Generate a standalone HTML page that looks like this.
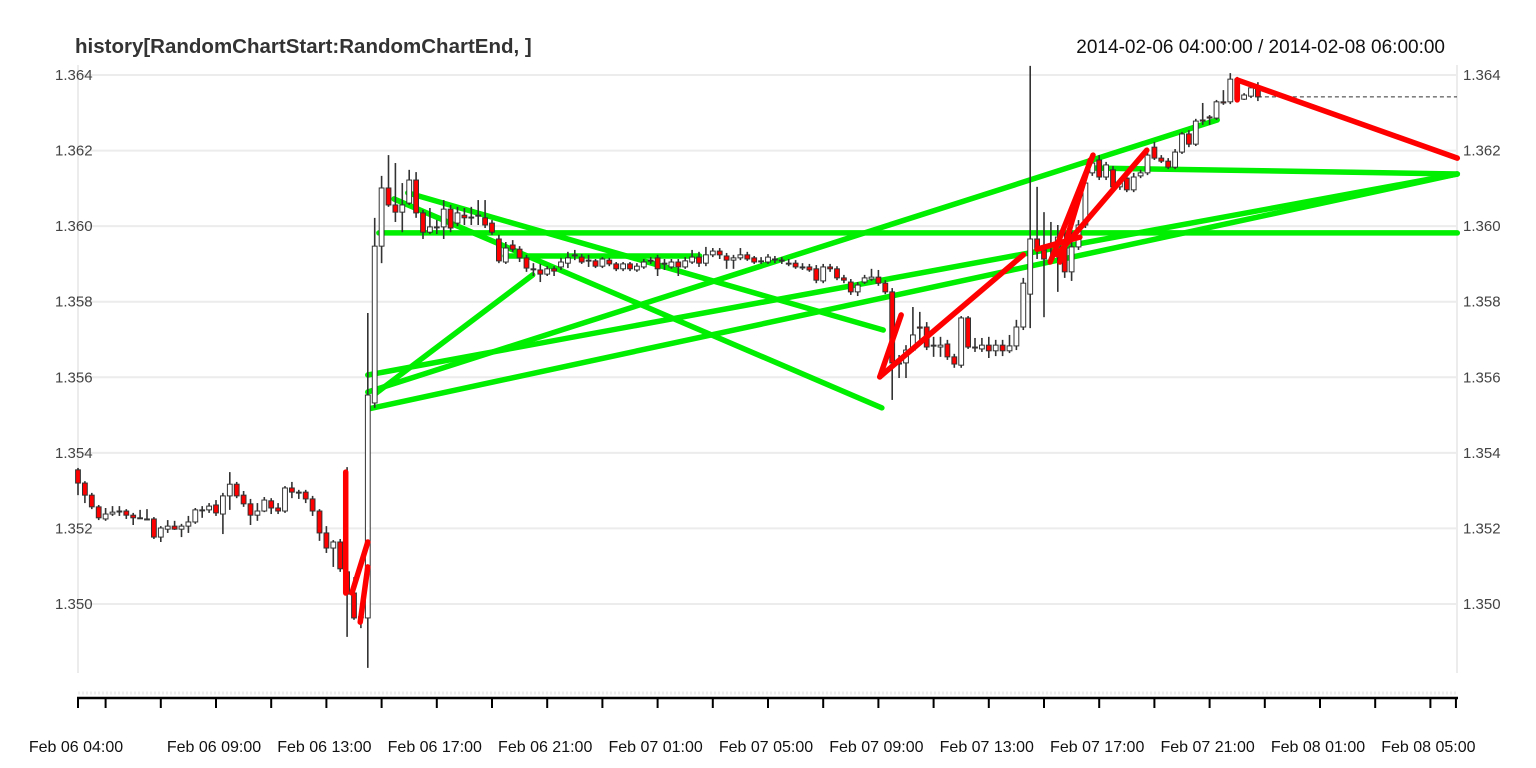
<!DOCTYPE html>
<html><head><meta charset="utf-8">
<style>
html,body{margin:0;padding:0;background:#fff;}
svg{display:block;font-family:"Liberation Sans",Arial,sans-serif;}
</style></head>
<body>
<svg id="chart" width="1536" height="768" viewBox="0 0 1536 768" xmlns="http://www.w3.org/2000/svg">
<rect x="0" y="0" width="1536" height="768" fill="#fff"/>
<text x="75" y="53" font-size="20.5" font-weight="bold" fill="#333">history[RandomChartStart:RandomChartEnd, ]</text>
<text x="1445" y="53" font-size="19" fill="#111" text-anchor="end">2014-02-06 04:00:00 / 2014-02-08 06:00:00</text>
<g id="grid"></g>
<g id="overlayG"></g>
<g id="candles"></g>
<g id="overlayR"></g>
<g id="axes"></g>
</svg>
<script>
const opens=[1.35355,1.35320,1.35288,1.35257,1.35225,1.35238,1.35246,1.35246,1.35235,1.35228,1.35225,1.35225,1.35177,1.35198,1.35206,1.35198,1.35206,1.35217,1.35249,1.35249,1.35262,1.35238,1.35286,1.35317,1.35288,1.35265,1.35235,1.35246,1.35273,1.35254,1.35246,1.35307,1.35296,1.35296,1.35278,1.35246,1.35188,1.35148,1.35164,1.35085,1.35029,1.34966,1.34963,1.35532,1.35947,1.36101,1.36056,1.36037,1.36061,1.36122,1.36035,1.35984,1.35998,1.35998,1.36045,1.36008,1.36029,1.36024,1.36029,1.36022,1.36008,1.35966,1.35905,1.35950,1.35939,1.35916,1.35887,1.35884,1.35873,1.35887,1.35892,1.35902,1.35924,1.35918,1.35910,1.35908,1.35894,1.35910,1.35900,1.35887,1.35900,1.35884,1.35892,1.35910,1.35916,1.35902,1.35892,1.35905,1.35892,1.35905,1.35918,1.35902,1.35924,1.35934,1.35921,1.35910,1.35916,1.35924,1.35916,1.35908,1.35905,1.35913,1.35910,1.35902,1.35902,1.35892,1.35892,1.35887,1.35855,1.35892,1.35887,1.35863,1.35852,1.35826,1.35852,1.35860,1.35865,1.35849,1.35826,1.35638,1.35638,1.35672,1.35733,1.35733,1.35685,1.35680,1.35688,1.35654,1.35632,1.35757,1.35680,1.35675,1.35685,1.35670,1.35685,1.35670,1.35683,1.35733,1.35820,1.35966,1.35937,1.35950,1.35945,1.35945,1.35879,1.35945,1.36003,1.36141,1.36175,1.36130,1.36149,1.36104,1.36127,1.36096,1.36133,1.36141,1.36209,1.36180,1.36172,1.36156,1.36196,1.36244,1.36217,1.36281,1.36289,1.36286,1.36329,1.36329,1.36389,1.36336,1.36344,1.36366];
const highs=[1.35360,1.35325,1.35294,1.35262,1.35254,1.35259,1.35259,1.35251,1.35241,1.35249,1.35251,1.35230,1.35206,1.35222,1.35220,1.35212,1.35233,1.35254,1.35259,1.35267,1.35275,1.35294,1.35349,1.35323,1.35299,1.35278,1.35267,1.35283,1.35280,1.35267,1.35312,1.35323,1.35302,1.35302,1.35286,1.35251,1.35206,1.35169,1.35172,1.35362,1.35071,1.34979,1.35770,1.36022,1.36133,1.36188,1.36167,1.36114,1.36149,1.36143,1.36043,1.36048,1.36016,1.36069,1.36056,1.36051,1.36048,1.36051,1.36069,1.36069,1.36016,1.35977,1.35958,1.35963,1.35947,1.35924,1.35902,1.35900,1.35894,1.35894,1.35916,1.35932,1.35937,1.35926,1.35924,1.35913,1.35918,1.35916,1.35905,1.35905,1.35905,1.35902,1.35913,1.35918,1.35924,1.35913,1.35913,1.35913,1.35918,1.35937,1.35932,1.35945,1.35942,1.35942,1.35929,1.35924,1.35942,1.35932,1.35921,1.35918,1.35926,1.35921,1.35918,1.35913,1.35910,1.35902,1.35900,1.35897,1.35900,1.35900,1.35894,1.35871,1.35860,1.35852,1.35871,1.35887,1.35884,1.35857,1.35836,1.35659,1.35685,1.35786,1.35773,1.35746,1.35707,1.35707,1.35699,1.35662,1.35762,1.35762,1.35704,1.35704,1.35707,1.35699,1.35699,1.35712,1.35752,1.35863,1.36424,1.36104,1.36037,1.36011,1.36003,1.35990,1.35990,1.36016,1.36127,1.36180,1.36188,1.36170,1.36159,1.36127,1.36135,1.36141,1.36149,1.36196,1.36223,1.36188,1.36180,1.36204,1.36249,1.36254,1.36284,1.36326,1.36294,1.36334,1.36360,1.36405,1.36395,1.36352,1.36374,1.36381];
const lows=[1.35288,1.35267,1.35251,1.35222,1.35220,1.35233,1.35233,1.35225,1.35209,1.35225,1.35222,1.35172,1.35164,1.35188,1.35196,1.35177,1.35188,1.35212,1.35228,1.35241,1.35233,1.35185,1.35249,1.35280,1.35257,1.35209,1.35220,1.35243,1.35238,1.35238,1.35241,1.35280,1.35278,1.35267,1.35233,1.35167,1.35135,1.35098,1.35085,1.34913,1.34958,1.34936,1.34831,1.35519,1.35902,1.36051,1.36011,1.35984,1.36056,1.36022,1.35966,1.35979,1.35979,1.35966,1.35984,1.36000,1.36003,1.36003,1.36003,1.35995,1.35977,1.35902,1.35900,1.35932,1.35905,1.35879,1.35868,1.35852,1.35868,1.35868,1.35884,1.35889,1.35910,1.35900,1.35892,1.35889,1.35889,1.35894,1.35881,1.35881,1.35881,1.35879,1.35887,1.35900,1.35868,1.35884,1.35887,1.35868,1.35887,1.35900,1.35892,1.35894,1.35918,1.35913,1.35887,1.35887,1.35910,1.35908,1.35900,1.35900,1.35900,1.35902,1.35900,1.35894,1.35887,1.35884,1.35879,1.35849,1.35849,1.35879,1.35857,1.35849,1.35818,1.35815,1.35847,1.35855,1.35842,1.35820,1.35540,1.35598,1.35598,1.35667,1.35691,1.35672,1.35654,1.35654,1.35646,1.35625,1.35625,1.35675,1.35667,1.35667,1.35651,1.35656,1.35656,1.35664,1.35672,1.35725,1.35730,1.35913,1.35759,1.35905,1.35826,1.35863,1.35855,1.35937,1.35995,1.36133,1.36122,1.36122,1.36096,1.36096,1.36090,1.36090,1.36127,1.36135,1.36175,1.36167,1.36151,1.36151,1.36191,1.36209,1.36212,1.36268,1.36268,1.36281,1.36321,1.36323,1.36331,1.36334,1.36339,1.36331];
const closes=[1.35320,1.35288,1.35257,1.35228,1.35238,1.35243,1.35244,1.35235,1.35228,1.35227,1.35224,1.35177,1.35201,1.35206,1.35198,1.35206,1.35217,1.35249,1.35247,1.35259,1.35241,1.35286,1.35317,1.35286,1.35265,1.35235,1.35246,1.35275,1.35254,1.35246,1.35307,1.35296,1.35294,1.35278,1.35246,1.35188,1.35148,1.35164,1.35093,1.35026,1.34963,1.34964,1.35553,1.35947,1.36101,1.36056,1.36037,1.36056,1.36122,1.36035,1.35984,1.35998,1.35996,1.36045,1.35995,1.36035,1.36022,1.36022,1.36027,1.36003,1.35984,1.35908,1.35942,1.35939,1.35916,1.35889,1.35885,1.35873,1.35887,1.35881,1.35905,1.35916,1.35922,1.35905,1.35908,1.35894,1.35913,1.35900,1.35887,1.35900,1.35887,1.35894,1.35905,1.35908,1.35887,1.35900,1.35905,1.35892,1.35908,1.35918,1.35902,1.35924,1.35934,1.35924,1.35910,1.35916,1.35924,1.35913,1.35905,1.35906,1.35918,1.35911,1.35908,1.35900,1.35892,1.35890,1.35884,1.35857,1.35892,1.35887,1.35863,1.35857,1.35826,1.35844,1.35863,1.35865,1.35849,1.35826,1.35638,1.35635,1.35672,1.35712,1.35730,1.35680,1.35683,1.35685,1.35654,1.35635,1.35757,1.35680,1.35678,1.35685,1.35670,1.35685,1.35670,1.35683,1.35733,1.35849,1.35966,1.35937,1.35913,1.35947,1.35971,1.35879,1.35945,1.36003,1.36114,1.36167,1.36130,1.36162,1.36104,1.36117,1.36096,1.36130,1.36141,1.36188,1.36180,1.36172,1.36156,1.36196,1.36244,1.36217,1.36278,1.36278,1.36286,1.36329,1.36326,1.36389,1.36336,1.36347,1.36366,1.36342];
// overlay segments: [startIndex, startPrice, endIndex, endPrice]
const greenSegs=[[43.6,1.35982,199.9,1.35982],[47.8,1.36088,116.7,1.35725],[45.8,1.36072,116.5,1.35519],[43.2,1.35558,65.9,1.35871],[61.9,1.35921,90.1,1.35921],[42.0,1.35561,165.1,1.36281],[42.0,1.35606,199.9,1.36138],[42.0,1.35516,199.9,1.36138],[146.7,1.36154,199.9,1.36138]];
const redSegs=[[38.8,1.35349,38.8,1.35029],[39.7,1.35029,42.0,1.35164],[40.9,1.34952,42.0,1.35098],[116.2,1.35601,119.3,1.35765],[116.2,1.35601,137.0,1.35924],[139.0,1.35939,145.2,1.35971],[140.9,1.35905,147.1,1.36188],[142.3,1.35905,146.7,1.36175],[141.9,1.35924,154.9,1.36201],[168.0,1.36334,168.0,1.36387],[168.0,1.36387,199.9,1.36180]];
const yTicks=[1.350,1.352,1.354,1.356,1.358,1.360,1.362,1.364];
const xTickIdx=[0,4,12,20,28,36,44,52,60,68,76,84,92,100,108,116,124,132,140,148,156,164,172,180,188,196,199.7];
const xLabelIdx=[0,20,36,52,68,84,100,116,132,148,164,180,196];
const xLabels=["Feb 06 04:00","Feb 06 09:00","Feb 06 13:00","Feb 06 17:00","Feb 06 21:00","Feb 07 01:00","Feb 07 05:00","Feb 07 09:00","Feb 07 13:00","Feb 07 17:00","Feb 07 21:00","Feb 08 01:00","Feb 08 05:00"];

const NS="http://www.w3.org/2000/svg";
const X0=78,STEP=6.9,XR=1457;
function xs(i){return X0+i*STEP;}
function ys(p){return 75+(1.364-p)/0.000026467;}
function mk(tag,attrs,parent){const e=document.createElementNS(NS,tag);for(const k in attrs)e.setAttribute(k,attrs[k]);parent.appendChild(e);return e;}
const grid=document.getElementById('grid'),axes=document.getElementById('axes');
let fl=mk('line',{x1:X0,y1:65,x2:X0,y2:673,stroke:'#ececec','stroke-width':2},grid);


let fr=mk('line',{x1:XR,y1:65,x2:XR,y2:673,stroke:'#ececec','stroke-width':2},grid);


let fb=mk('line',{x1:X0,y1:693,x2:XR,y2:693,stroke:'#ededed','stroke-width':3,'stroke-dasharray':'2,2'},grid);


yTicks.forEach(function(t){
  const y=ys(t);
  const g=mk('line',{x1:X0,y1:y,x2:XR,y2:y,stroke:'#ececec','stroke-width':2},grid);
  
  
  const l=mk('text',{x:55,y:y+5,'font-size':15,fill:'#444'},axes);
  l.textContent=t.toFixed(3);
  
  
  const r=mk('text',{x:1463,y:y+5,'font-size':15,fill:'#444'},axes);
  r.textContent=t.toFixed(3);
  
  
});
const ax=mk('line',{x1:X0-1,y1:698,x2:XR+1,y2:698,stroke:'#000','stroke-width':2.5},axes);


xTickIdx.forEach(function(i){
  const t=mk('line',{x1:xs(i),y1:698,x2:xs(i),y2:708,stroke:'#000','stroke-width':2},axes);
  
  
});
xLabelIdx.forEach(function(i,k){
  const t=mk('text',{x:xs(i)-2,y:752,'font-size':16,fill:'#111','text-anchor':'middle'},axes);
  t.textContent=xLabels[k];
  
  
});
const gG=document.getElementById('overlayG'),gR=document.getElementById('overlayR');
greenSegs.forEach(function(s){
  const l=mk('line',{x1:xs(s[0]),y1:ys(s[1]),x2:xs(s[2]),y2:ys(s[3]),stroke:'#00ee00','stroke-width':5.5,'stroke-linecap':'round'},gG);
  
  
});
const cg=document.getElementById('candles');
opens.forEach(function(o,i){
  const c=closes[i],h=highs[i],lo=lows[i],x=xs(i);
  const w=mk('line',{x1:x,y1:ys(h),x2:x,y2:ys(lo),stroke:'#333','stroke-width':1.6},cg);
  
  
  const top=ys(Math.max(o,c)),bot=ys(Math.min(o,c));
  const b=mk('rect',{x:x-2.4,y:top,width:4.8,height:Math.max(1,bot-top),fill:c<o?'#ff0000':'#ffffff',stroke:'#333','stroke-width':1},cg);
  
  
});
const last=closes[closes.length-1];
const dl=mk('line',{x1:xs(closes.length-1),y1:ys(last),x2:XR,y2:ys(last),stroke:'#333','stroke-width':1,'stroke-dasharray':'4,3'},cg);


redSegs.forEach(function(s){
  const l=mk('line',{x1:xs(s[0]),y1:ys(s[1]),x2:xs(s[2]),y2:ys(s[3]),stroke:'#ff0000','stroke-width':5.5,'stroke-linecap':'round'},gR);
  
  
});
</script>
</body></html>
